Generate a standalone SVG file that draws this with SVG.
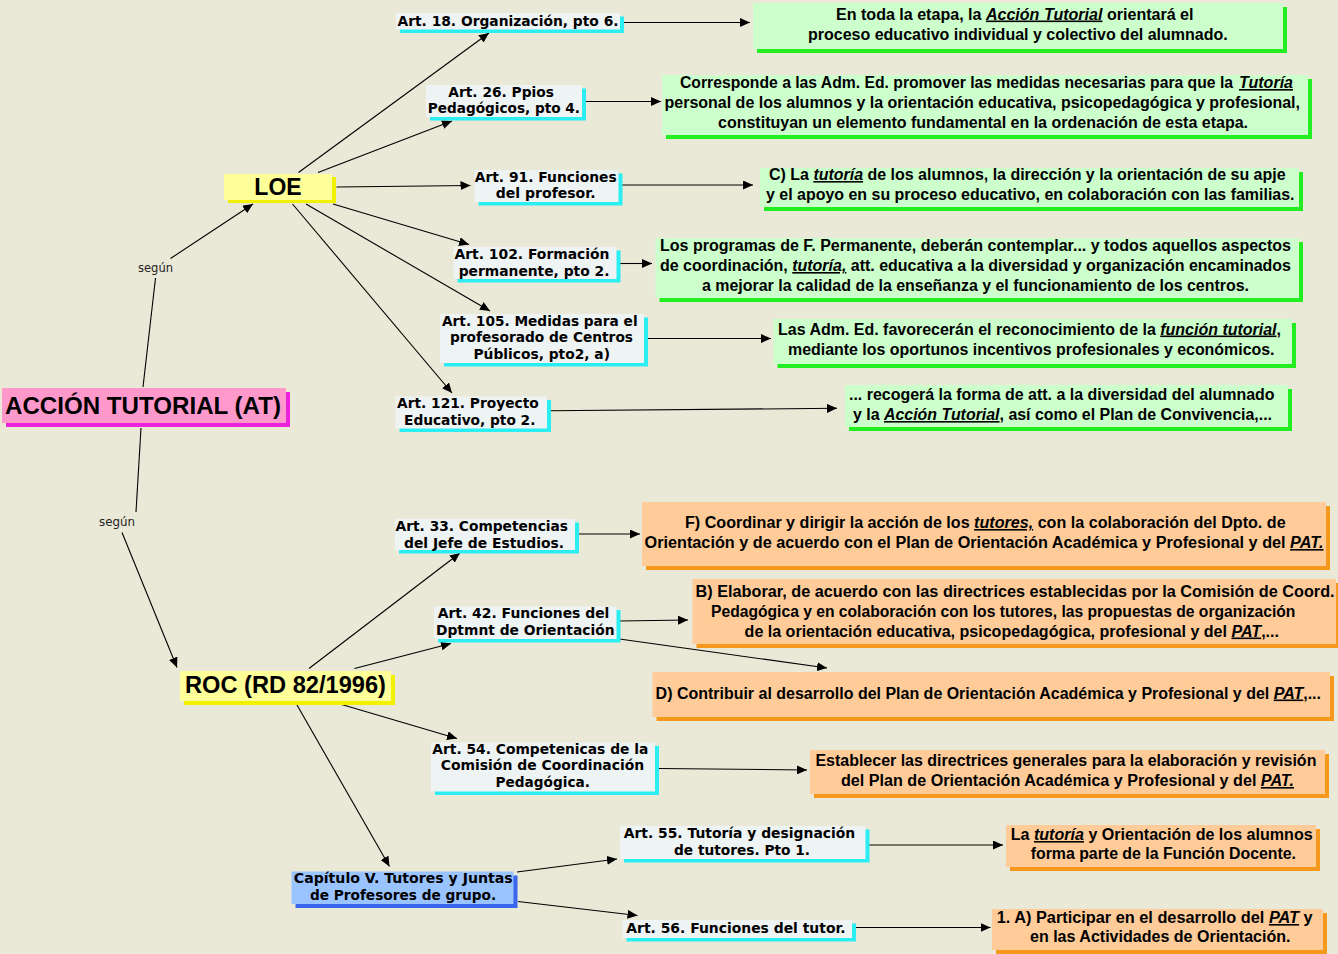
<svg xmlns="http://www.w3.org/2000/svg" width="1338" height="954" viewBox="0 0 1338 954">
<defs>
<style>
.t{font-family:'Liberation Sans',Arial,sans-serif;font-weight:bold;font-size:16px;fill:#000}
.big{font-family:'Liberation Sans',Arial,sans-serif;font-weight:bold;fill:#000}
.a{font-family:'DejaVu Sans',Verdana,sans-serif;font-weight:bold;font-size:14px;fill:#000}
.lbl{font-family:'DejaVu Sans',Verdana,sans-serif;font-size:12px;fill:#222}
.u{font-style:italic;text-decoration:underline}
.artM{fill:#EEF3F3}.artS{fill:#2AEEF2}
.grM{fill:#CCFFCC}.grS{fill:#22EE22}
.orM{fill:#FFCC99}.orS{fill:#F5991C}
.conn line{stroke:#000;stroke-width:1.1}
</style>
<marker id="ah" viewBox="0 0 10 9" refX="10" refY="4.5" markerWidth="10" markerHeight="9" markerUnits="userSpaceOnUse" orient="auto">
<path d="M0,0 L10,4.5 L0,9 z" fill="#000"/>
</marker>
</defs>
<rect width="1338" height="954" fill="#EAE8D7"/>

<g id="connectors" class="conn">
<line x1="143" y1="387" x2="155.5" y2="278"/>
<line x1="170.5" y1="258.5" x2="253" y2="204" marker-end="url(#ah)"/>
<line x1="141" y1="428" x2="136" y2="512"/>
<line x1="122" y1="532.5" x2="177" y2="667.5" marker-end="url(#ah)"/>
<line x1="298.5" y1="172.5" x2="489" y2="33" marker-end="url(#ah)"/>
<line x1="318" y1="172.5" x2="452" y2="121" marker-end="url(#ah)"/>
<line x1="336.5" y1="187" x2="470.5" y2="185.5" marker-end="url(#ah)"/>
<line x1="333" y1="204" x2="469" y2="244.5" marker-end="url(#ah)"/>
<line x1="306" y1="204" x2="490" y2="311" marker-end="url(#ah)"/>
<line x1="292.5" y1="204" x2="452" y2="393" marker-end="url(#ah)"/>
<line x1="623.5" y1="22.5" x2="750" y2="22.5" marker-end="url(#ah)"/>
<line x1="586" y1="101.5" x2="661" y2="101.5" marker-end="url(#ah)"/>
<line x1="622" y1="185" x2="753" y2="185" marker-end="url(#ah)"/>
<line x1="620" y1="263.5" x2="652" y2="263.5" marker-end="url(#ah)"/>
<line x1="648" y1="338.5" x2="771" y2="338.5" marker-end="url(#ah)"/>
<line x1="550" y1="410.7" x2="837" y2="408.3" marker-end="url(#ah)"/>
<line x1="309" y1="668.5" x2="460" y2="553" marker-end="url(#ah)"/>
<line x1="354.5" y1="668.5" x2="451" y2="643.5" marker-end="url(#ah)"/>
<line x1="340" y1="704" x2="457" y2="738.5" marker-end="url(#ah)"/>
<line x1="297" y1="705" x2="389.5" y2="866.5" marker-end="url(#ah)"/>
<line x1="578" y1="534" x2="640" y2="534" marker-end="url(#ah)"/>
<line x1="619.5" y1="621" x2="688" y2="620" marker-end="url(#ah)"/>
<line x1="619.5" y1="639" x2="827" y2="668" marker-end="url(#ah)"/>
<line x1="659" y1="768.5" x2="807" y2="770" marker-end="url(#ah)"/>
<line x1="517" y1="872" x2="617" y2="859" marker-end="url(#ah)"/>
<line x1="518" y1="901.5" x2="637.5" y2="915.5" marker-end="url(#ah)"/>
<line x1="869" y1="845" x2="1003" y2="845" marker-end="url(#ah)"/>
<line x1="855" y1="927.5" x2="990.5" y2="927.5" marker-end="url(#ah)"/>
</g>

<g id="lbl-segun1"><text class="lbl" x="138" y="271.5" textLength="35" lengthAdjust="spacingAndGlyphs">según</text></g>
<g id="lbl-segun2"><text class="lbl" x="99" y="525.5" textLength="36" lengthAdjust="spacingAndGlyphs">según</text></g>

<g id="n-at">
<rect x="6" y="392" width="284" height="35" fill="#EE22DD"/>
<rect x="2" y="388" width="284" height="35" fill="#FF99CC"/>
<text class="big" x="5" y="414" font-size="24" textLength="276" lengthAdjust="spacingAndGlyphs">ACCIÓN TUTORIAL (AT)</text>
</g>

<g id="n-loe">
<rect x="228" y="177" width="108" height="26" fill="#F2F200"/>
<rect x="224" y="174" width="108" height="26" fill="#FFFF99"/>
<text class="big" x="278" y="195" font-size="23" text-anchor="middle">LOE</text>
</g>

<g id="n-roc">
<rect x="184" y="675" width="211" height="30" fill="#F2F200"/>
<rect x="180" y="671" width="211" height="30" fill="#FFFF99"/>
<text class="big" x="185" y="692.5" font-size="23" textLength="201" lengthAdjust="spacingAndGlyphs">ROC (RD 82/1996)</text>
</g>

<g id="n-art18">
<rect class="artS" x="400" y="16.5" width="224" height="16.5"/>
<rect class="artM" x="396" y="13" width="224" height="16.5"/>
<text class="a" x="397.5" y="26" textLength="221" lengthAdjust="spacingAndGlyphs">Art. 18. Organización, pto 6.</text>
</g>
<g id="n-art26">
<rect class="artS" x="430" y="88.5" width="156" height="32"/>
<rect class="artM" x="426" y="85" width="156" height="32"/>
<text class="a" x="448.3" y="96.7" textLength="105.7" lengthAdjust="spacingAndGlyphs">Art. 26. Ppios</text>
<text class="a" x="427.7" y="113.3" textLength="152.3" lengthAdjust="spacingAndGlyphs">Pedagógicos, pto 4.</text>
</g>
<g id="n-art91">
<rect class="artS" x="478.5" y="173.5" width="144" height="32"/>
<rect class="artM" x="474.5" y="170" width="144" height="32"/>
<text class="a" x="474.7" y="181.7" textLength="142" lengthAdjust="spacingAndGlyphs">Art. 91. Funciones</text>
<text class="a" x="495.8" y="198.3" textLength="99.7" lengthAdjust="spacingAndGlyphs">del profesor.</text>
</g>
<g id="n-art102">
<rect class="artS" x="457.5" y="250.5" width="163" height="32"/>
<rect class="artM" x="453.5" y="247" width="163" height="32"/>
<text class="a" x="454.5" y="259" textLength="155" lengthAdjust="spacingAndGlyphs">Art. 102. Formación</text>
<text class="a" x="458.7" y="275.7" textLength="150.7" lengthAdjust="spacingAndGlyphs">permanente, pto 2.</text>
</g>
<g id="n-art105">
<rect class="artS" x="444" y="317.5" width="204" height="49"/>
<rect class="artM" x="440" y="314" width="204" height="49"/>
<text class="a" x="442" y="325.5" textLength="195.6" lengthAdjust="spacingAndGlyphs">Art. 105. Medidas para el</text>
<text class="a" x="450" y="342.2" textLength="183" lengthAdjust="spacingAndGlyphs">profesorado de Centros</text>
<text class="a" x="473.5" y="359" textLength="136.5" lengthAdjust="spacingAndGlyphs">Públicos, pto2, a)</text>
</g>
<g id="n-art121">
<rect class="artS" x="399.5" y="400" width="151.5" height="32"/>
<rect class="artM" x="395.5" y="396.5" width="151.5" height="32"/>
<text class="a" x="397" y="408.2" textLength="141.7" lengthAdjust="spacingAndGlyphs">Art. 121. Proyecto</text>
<text class="a" x="404" y="425" textLength="131.4" lengthAdjust="spacingAndGlyphs">Educativo, pto 2.</text>
</g>
<g id="n-art33">
<rect class="artS" x="399" y="522.5" width="180" height="31"/>
<rect class="artM" x="395" y="519" width="180" height="31"/>
<text class="a" x="395.6" y="531" textLength="172.4" lengthAdjust="spacingAndGlyphs">Art. 33. Competencias</text>
<text class="a" x="404" y="547.7" textLength="160" lengthAdjust="spacingAndGlyphs">del Jefe de Estudios.</text>
</g>
<g id="n-art42">
<rect class="artS" x="438" y="610" width="182.5" height="32.5"/>
<rect class="artM" x="434" y="606.5" width="182.5" height="32.5"/>
<text class="a" x="437.7" y="618.3" textLength="171.7" lengthAdjust="spacingAndGlyphs">Art. 42. Funciones del</text>
<text class="a" x="436" y="635" textLength="178.5" lengthAdjust="spacingAndGlyphs">Dptmnt de Orientación</text>
</g>
<g id="n-art54">
<rect class="artS" x="435" y="746" width="224" height="49"/>
<rect class="artM" x="431" y="742.5" width="224" height="49"/>
<text class="a" x="432.3" y="753.5" textLength="216" lengthAdjust="spacingAndGlyphs">Art. 54. Competenicas de la</text>
<text class="a" x="440.7" y="770.2" textLength="203.6" lengthAdjust="spacingAndGlyphs">Comisión de Coordinación</text>
<text class="a" x="495.5" y="787" textLength="94.5" lengthAdjust="spacingAndGlyphs">Pedagógica.</text>
</g>
<g id="n-art55">
<rect class="artS" x="624" y="829.5" width="245.5" height="33"/>
<rect class="artM" x="620" y="826" width="245.5" height="33"/>
<text class="a" x="623.7" y="838" textLength="231.5" lengthAdjust="spacingAndGlyphs">Art. 55. Tutoría y designación</text>
<text class="a" x="674" y="854.7" textLength="136" lengthAdjust="spacingAndGlyphs">de tutores. Pto 1.</text>
</g>
<g id="n-art56">
<rect class="artS" x="626.5" y="923.5" width="229.5" height="18"/>
<rect class="artM" x="622.5" y="920" width="229.5" height="18"/>
<text class="a" x="626.3" y="933" textLength="219.3" lengthAdjust="spacingAndGlyphs">Art. 56. Funciones del tutor.</text>
</g>
<g id="n-cap5">
<rect x="295.5" y="875.5" width="222" height="32.5" fill="#3A66EE"/>
<rect x="291.5" y="871.5" width="222" height="32.5" fill="#99C4FF"/>
<text class="a" x="293.8" y="883" textLength="218.9" lengthAdjust="spacingAndGlyphs">Capítulo V. Tutores y Juntas</text>
<text class="a" x="309.9" y="899.7" textLength="186.3" lengthAdjust="spacingAndGlyphs">de Profesores de grupo.</text>
</g>

<g id="n-g1">
<rect class="grS" x="757" y="7" width="530" height="46"/>
<rect class="grM" x="753" y="3" width="530" height="46"/>
<text class="t" x="836" y="19.5" textLength="357.5" lengthAdjust="spacingAndGlyphs">En toda la etapa, la <tspan class="u">Acción Tutorial</tspan> orientará el</text>
<text class="t" x="808" y="39.5" textLength="419.7" lengthAdjust="spacingAndGlyphs">proceso educativo individual y colectivo del alumnado.</text>
</g>
<g id="n-g2">
<rect class="grS" x="666" y="79" width="646" height="60"/>
<rect class="grM" x="662" y="75" width="646" height="60"/>
<text class="t" x="680" y="88" textLength="553" lengthAdjust="spacingAndGlyphs">Corresponde a las Adm. Ed. promover las medidas necesarias para que la</text>
<text class="t u" x="1239" y="88" textLength="54" lengthAdjust="spacingAndGlyphs">Tutoría</text>
<text class="t" x="664.5" y="108" textLength="635.5" lengthAdjust="spacingAndGlyphs">personal de los alumnos y la orientación educativa, psicopedagógica y profesional,</text>
<text class="t" x="718" y="128" textLength="530" lengthAdjust="spacingAndGlyphs">constituyan un elemento fundamental en la ordenación de esta etapa.</text>
</g>
<g id="n-g3">
<rect class="grS" x="764" y="172" width="539" height="39"/>
<rect class="grM" x="760" y="168" width="539" height="39"/>
<text class="t" x="769" y="180" textLength="516.6" lengthAdjust="spacingAndGlyphs">C) La <tspan class="u">tutoría</tspan> de los alumnos, la dirección y la orientación de su apje</text>
<text class="t" x="766" y="200" textLength="528.5" lengthAdjust="spacingAndGlyphs">y el apoyo en su proceso educativo, en colaboración con las familias.</text>
</g>
<g id="n-g4">
<rect class="grS" x="659.5" y="242" width="643.5" height="60"/>
<rect class="grM" x="655.5" y="238" width="643.5" height="60"/>
<text class="t" x="660" y="251" textLength="631" lengthAdjust="spacingAndGlyphs">Los programas de F. Permanente, deberán contemplar... y todos aquellos aspectos</text>
<text class="t" x="660" y="271" textLength="631" lengthAdjust="spacingAndGlyphs">de coordinación, <tspan class="u">tutoría,</tspan> att. educativa a la diversidad y organización encaminados</text>
<text class="t" x="702" y="291" textLength="547" lengthAdjust="spacingAndGlyphs">a mejorar la calidad de la enseñanza y el funcionamiento de los centros.</text>
</g>
<g id="n-g5">
<rect class="grS" x="777.5" y="323" width="518.5" height="45"/>
<rect class="grM" x="773.5" y="319" width="518.5" height="45"/>
<text class="t" x="778" y="334.5" textLength="503" lengthAdjust="spacingAndGlyphs">Las Adm. Ed. favorecerán el reconocimiento de la <tspan class="u">función tutorial</tspan>,</text>
<text class="t" x="788" y="354.5" textLength="486.5" lengthAdjust="spacingAndGlyphs">mediante los oportunos incentivos profesionales y económicos.</text>
</g>
<g id="n-g6">
<rect class="grS" x="849" y="389" width="443" height="42"/>
<rect class="grM" x="845" y="385" width="443" height="42"/>
<text class="t" x="849" y="400" textLength="425.5" lengthAdjust="spacingAndGlyphs">... recogerá la forma de att. a la diversidad del alumnado</text>
<text class="t" x="853" y="420" textLength="419" lengthAdjust="spacingAndGlyphs">y la <tspan class="u">Acción Tutorial</tspan>, así como el Plan de Convivencia,...</text>
</g>

<g id="n-o1">
<rect class="orS" x="646" y="506" width="684" height="64"/>
<rect class="orM" x="642" y="502" width="684" height="64"/>
<text class="t" x="685" y="528" textLength="600.6" lengthAdjust="spacingAndGlyphs">F) Coordinar y dirigir la acción de los <tspan class="u">tutores,</tspan> con la colaboración del Dpto. de</text>
<text class="t" x="644.5" y="548" textLength="679" lengthAdjust="spacingAndGlyphs">Orientación y de acuerdo con el Plan de Orientación Académica y Profesional y del <tspan class="u">PAT.</tspan></text>
</g>
<g id="n-o2">
<rect class="orS" x="696.5" y="583" width="643.5" height="65"/>
<rect class="orM" x="692.5" y="579" width="643.5" height="65"/>
<text class="t" x="695.6" y="596.5" textLength="639" lengthAdjust="spacingAndGlyphs">B) Elaborar, de acuerdo con las directrices establecidas por la Comisión de Coord.</text>
<text class="t" x="711" y="616.5" textLength="584.4" lengthAdjust="spacingAndGlyphs">Pedagógica y en colaboración con los tutores, las propuestas de organización</text>
<text class="t" x="744.6" y="636.5" textLength="534.4" lengthAdjust="spacingAndGlyphs">de la orientación educativa, psicopedagógica, profesional y del <tspan class="u">PAT</tspan>,...</text>
</g>
<g id="n-o3">
<rect class="orS" x="656.5" y="676" width="677.5" height="45"/>
<rect class="orM" x="652.5" y="672" width="677.5" height="45"/>
<text class="t" x="655.6" y="698.5" textLength="665.4" lengthAdjust="spacingAndGlyphs">D) Contribuir al desarrollo del Plan de Orientación Académica y Profesional y del <tspan class="u">PAT</tspan>,...</text>
</g>
<g id="n-o4">
<rect class="orS" x="814" y="754" width="515" height="44"/>
<rect class="orM" x="810" y="750" width="515" height="44"/>
<text class="t" x="815.4" y="766" textLength="501" lengthAdjust="spacingAndGlyphs">Establecer las directrices generales para la elaboración y revisión</text>
<text class="t" x="841" y="786" textLength="453" lengthAdjust="spacingAndGlyphs">del Plan de Orientación Académica y Profesional y del <tspan class="u">PAT.</tspan></text>
</g>
<g id="n-o5">
<rect class="orS" x="1010" y="829" width="310" height="42"/>
<rect class="orM" x="1006" y="825" width="310" height="42"/>
<text class="t" x="1010.7" y="840" textLength="302" lengthAdjust="spacingAndGlyphs">La <tspan class="u">tutoría</tspan> y Orientación de los alumnos</text>
<text class="t" x="1030.7" y="859" textLength="265.3" lengthAdjust="spacingAndGlyphs">forma parte de la Función Docente.</text>
</g>
<g id="n-o6">
<rect class="orS" x="996" y="913" width="331" height="41"/>
<rect class="orM" x="992" y="909" width="331" height="41"/>
<text class="t" x="996.7" y="923" textLength="316" lengthAdjust="spacingAndGlyphs">1. A) Participar en el desarrollo del <tspan class="u">PAT</tspan> y</text>
<text class="t" x="1030" y="942" textLength="260.5" lengthAdjust="spacingAndGlyphs">en las Actividades de Orientación.</text>
</g>
</svg>
